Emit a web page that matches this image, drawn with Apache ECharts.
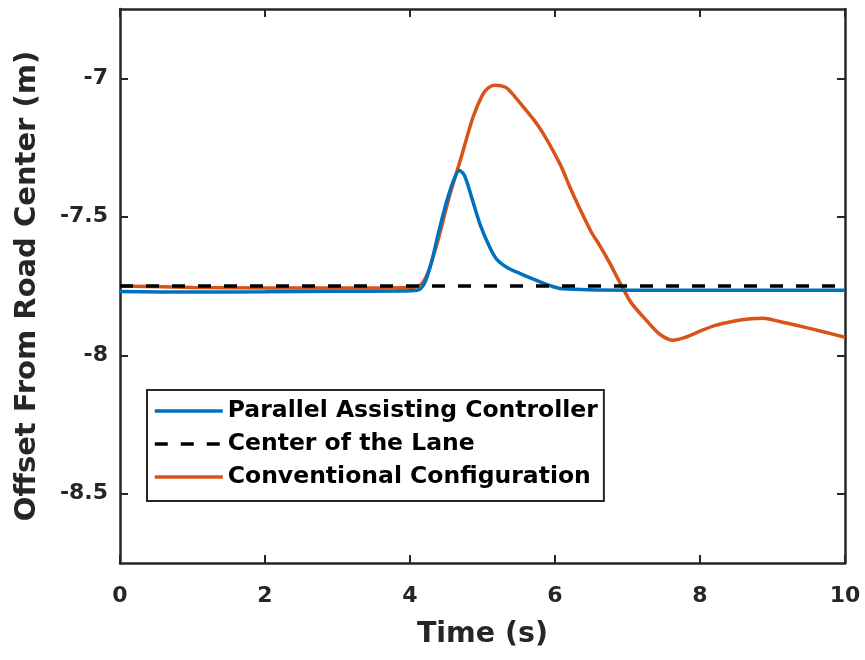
<!DOCTYPE html>
<html>
<head>
<meta charset="utf-8">
<script src="https://cdn.jsdelivr.net/npm/echarts@6/dist/echarts.min.js"></script>
<style>html,body{margin:0;padding:0;background:#fff}#c{width:865px;height:660px}</style>
</head>
<body>
<div id="c"></div>
<script>
var seriesNames = ['Parallel Assisting Controller', 'Center of the Lane', 'Conventional Configuration'];
var xTicks = [0, 2, 4, 6, 8, 10];
var yTicks = [-8.5, -8, -7.5, -7];

var parallelT = [0, 1, 2, 3, 3.8, 4.1, 4.2, 4.3, 4.4, 4.5, 4.6, 4.68, 4.75, 4.85, 4.97, 5.1, 5.2, 5.35, 5.52, 5.7, 5.89, 6.1, 7, 8, 9, 10];
var parallelV = [-7.77, -7.772, -7.771, -7.769, -7.768, -7.765, -7.74, -7.66, -7.55, -7.45, -7.37, -7.333, -7.35, -7.43, -7.53, -7.61, -7.655, -7.685, -7.705, -7.725, -7.745, -7.76, -7.765, -7.765, -7.765, -7.765];

var laneT = [0, 10];
var laneV = [-7.75, -7.75];

var convT = [0, 1, 2, 3, 4.0, 4.15, 4.25, 4.37, 4.55, 4.69, 4.87, 5.0, 5.08, 5.17, 5.25, 5.34, 5.52, 5.79, 6.07, 6.2, 6.34, 6.5, 6.62, 6.75, 6.9, 7.05, 7.27, 7.45, 7.63, 7.8, 8.0, 8.2, 8.46, 8.7, 8.87, 9.1, 9.38, 9.7, 10];
var convV = [-7.75, -7.755, -7.757, -7.757, -7.755, -7.745, -7.70, -7.60, -7.42, -7.30, -7.14, -7.06, -7.035, -7.025, -7.027, -7.036, -7.09, -7.18, -7.31, -7.39, -7.47, -7.555, -7.605, -7.665, -7.74, -7.81, -7.877, -7.925, -7.946, -7.935, -7.913, -7.893, -7.877, -7.868, -7.866, -7.878, -7.895, -7.915, -7.935];

function pairs(t, v) { return t.map(function (x, i) { return [x, v[i]]; }); }

var FONT = 'DejaVu Sans';
var AX = '#262626';
var chart = echarts.init(document.getElementById('c'), null, {renderer: 'canvas'});
var axisLine = {show: true, onZero: false, lineStyle: {color: AX, width: 2.5}};
chart.setOption({
  animation: false,
  backgroundColor: '#fff',
  grid: {left: 120, right: 20, top: 9, bottom: 97, containLabel: false},
  legend: {
    orient: 'vertical', left: 147, top: 390,
    data: seriesNames,
    backgroundColor: '#fff', borderColor: AX, borderWidth: 2,
    padding: [9, 6, 12, 6],
    itemWidth: 68, itemHeight: 24, itemGap: 9, itemTextGap: 6,
    itemStyle: {opacity: 0},
    lineStyle: {width: 3.5},
    textStyle: {fontFamily: FONT, fontWeight: 'bold', fontSize: 23.5, color: '#000'}
  },
  xAxis: [{
    type: 'value', min: 0, max: 10, interval: 2,
    name: 'Time (s)', nameLocation: 'middle', nameGap: 57,
    nameTextStyle: {fontFamily: FONT, fontWeight: 'bold', fontSize: 28.5, color: AX},
    axisLine: axisLine,
    axisTick: {show: true, inside: true, length: 8, lineStyle: {color: AX, width: 2}},
    axisLabel: {fontFamily: FONT, fontWeight: 'bold', fontSize: 22, color: AX, margin: 22,
      customValues: xTicks},
    splitLine: {show: false}
  }, {
    type: 'value', min: 0, max: 10, interval: 2, position: 'top',
    axisLine: axisLine,
    axisTick: {show: true, inside: true, length: 8, lineStyle: {color: AX, width: 2}},
    axisLabel: {show: false}, splitLine: {show: false}
  }],
  yAxis: [{
    type: 'value', min: -8.75, max: -6.75,
    name: 'Offset From Road Center (m)', nameLocation: 'middle', nameGap: 78,
    nameTextStyle: {fontFamily: FONT, fontWeight: 'bold', fontSize: 29, color: AX},
    axisLine: axisLine,
    axisTick: {show: true, inside: true, length: 8, lineStyle: {color: AX, width: 2}, customValues: yTicks},
    axisLabel: {fontFamily: FONT, fontWeight: 'bold', fontSize: 22, color: AX, margin: 12, customValues: yTicks},
    splitLine: {show: false}
  }, {
    type: 'value', min: -8.75, max: -6.75, position: 'right',
    axisLine: axisLine,
    axisTick: {show: true, inside: true, length: 8, lineStyle: {color: AX, width: 2}, customValues: yTicks},
    axisLabel: {show: false}, splitLine: {show: false}
  }],
  series: [{
    name: seriesNames[0], type: 'line', data: pairs(parallelT, parallelV),
    showSymbol: false, symbol: 'none', smooth: 0.3, z: 3,
    lineStyle: {color: '#0072BD', width: 3.5}, itemStyle: {color: '#0072BD'}
  }, {
    name: seriesNames[1], type: 'line', data: pairs(laneT, laneV),
    showSymbol: false, symbol: 'none', z: 4,
    lineStyle: {color: '#000', width: 3.5, type: [13, 13]}, itemStyle: {color: '#000'}
  }, {
    name: seriesNames[2], type: 'line', data: pairs(convT, convV),
    showSymbol: false, symbol: 'none', smooth: 0.3, z: 2,
    lineStyle: {color: '#D95319', width: 3.5}, itemStyle: {color: '#D95319'}
  }]
});
</script>
</body>
</html>
